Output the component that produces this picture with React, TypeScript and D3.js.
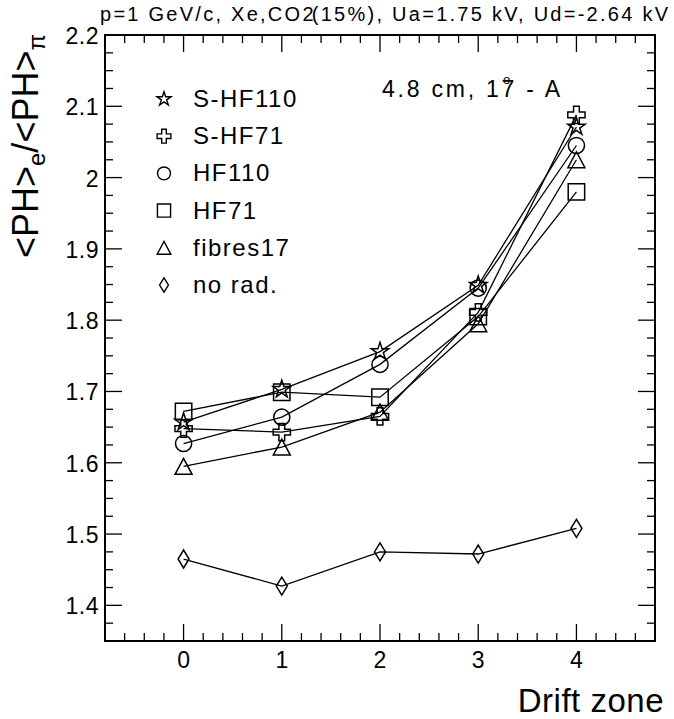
import React from "react";
import * as d3 from "d3";

const zones = [0, 1, 2, 3, 4];
const sHF110 = [1.657, 1.703, 1.756, 1.849, 2.071];
const sHF71 = [1.648, 1.643, 1.665, 1.811, 2.088];
const hf110 = [1.627, 1.664, 1.738, 1.845, 2.045];
const hf71 = [1.672, 1.699, 1.692, 1.805, 1.98];
const fibres17 = [1.595, 1.622, 1.671, 1.795, 2.025];
const noRad = [1.465, 1.427, 1.475, 1.472, 1.508];

const seriesNames = ["S-HF110", "S-HF71", "HF110", "HF71", "fibres17", "no rad."];
const seriesMarkers = ["star", "cross", "circle", "square", "triangle", "diamond"];
const seriesValues = [sHF110, sHF71, hf110, hf71, fibres17, noRad];

const yTickValues = [1.4, 1.5, 1.6, 1.7, 1.8, 1.9, 2.0, 2.1, 2.2];
const yTickLabels = ["1.4", "1.5", "1.6", "1.7", "1.8", "1.9", "2", "2.1", "2.2"];
const xTickValues = [0, 1, 2, 3, 4];
const xTickLabels = ["0", "1", "2", "3", "4"];

const FONT = "'Liberation Sans', Arial, sans-serif";

function markerPath(kind: string, s: number): string {
  switch (kind) {
    case "star":
      return d3.symbol(d3.symbolStar, 95 * s * s)()!;
    case "cross":
      return d3.symbol(d3.symbolCross, 165 * s * s)()!;
    case "circle":
      return d3.symbol(d3.symbolCircle, 205 * s * s)()!;
    case "square":
      return d3.symbol(d3.symbolSquare, 270 * s * s)()!;
    case "triangle": {
      const w = 17 * s, h = 16 * s;
      return `M0,${-h / 2}L${w / 2},${h / 2}L${-w / 2},${h / 2}Z`;
    }
    case "diamond": {
      const w = 5.5 * s, h = 9 * s;
      return `M0,${-h}L${w},0L0,${h}L${-w},0Z`;
    }
  }
  return "";
}

export default function App() {
  const W = 674, H = 719;
  const x = d3.scaleLinear().domain([-0.8, 4.8]).range([105, 655]);
  const y = d3.scaleLinear().domain([1.35, 2.2]).range([641, 35]);
  const [x0, x1] = x.range();
  const [y0, y1] = y.range();

  const xMinor = d3.range(-0.8, 4.8001, 0.2).map((v) => +v.toFixed(2));
  const yMinor = d3.range(1.35, 2.2001, 0.025).map((v) => +v.toFixed(3));
  const isMajorX = (v: number) => Math.abs(v - Math.round(v)) < 1e-6;
  const isMajorY = (v: number) => Math.abs(v * 10 - Math.round(v * 10)) < 1e-6;

  const line = d3
    .line<number>()
    .x((_, i) => x(zones[i]))
    .y((d) => y(d));

  const legendX = 164;
  const legendTextX = 193;
  const legendY0 = 107;
  const legendDy = 37.2;

  return (
    <svg
      width={W}
      height={H}
      style={{ position: "absolute", left: 0, top: 0, background: "#fff" }}
    >
      <rect x={0} y={0} width={W} height={H} fill="#fff" />
      {/* title */}
      <text x={100} y={21} fontFamily={FONT} fontSize={20} fill="#000" textLength={568} lengthAdjust="spacing">
        p=1 GeV/c, Xe,CO2<tspan dx={-4}>(15%), Ua=1.75 kV, Ud=-2.64 kV</tspan>
      </text>

      {/* ticks */}
      <g stroke="#000" strokeWidth={1.3}>
        {xMinor.map((v, i) => {
          const len = isMajorX(v) ? 17 : 8;
          return (
            <g key={"xt" + i}>
              <line x1={x(v)} x2={x(v)} y1={y0} y2={y0 - len} />
              <line x1={x(v)} x2={x(v)} y1={y1} y2={y1 + len} />
            </g>
          );
        })}
        {yMinor.map((v, i) => {
          const len = isMajorY(v) ? 17 : 8;
          return (
            <g key={"yt" + i}>
              <line x1={x0} x2={x0 + len} y1={y(v)} y2={y(v)} />
              <line x1={x1} x2={x1 - len} y1={y(v)} y2={y(v)} />
            </g>
          );
        })}
      </g>

      {/* frame */}
      <rect x={x0} y={y1} width={x1 - x0} height={y0 - y1} fill="none" stroke="#000" strokeWidth={2} />

      {/* tick labels */}
      {yTickValues.map((v, i) => (
        <text key={"yl" + i} x={99} y={y(v) + 9} textAnchor="end" fontFamily={FONT} fontSize={23} letterSpacing={0.5}>
          {yTickLabels[i]}
        </text>
      ))}
      {xTickValues.map((v, i) => (
        <text key={"xl" + i} x={x(v)} y={668} textAnchor="middle" fontFamily={FONT} fontSize={23}>
          {xTickLabels[i]}
        </text>
      ))}

      {/* axis titles */}
      <text x={664} y={712} textAnchor="end" fontFamily={FONT} fontSize={33} letterSpacing={0.5}>
        Drift zone
      </text>
      <text transform="translate(38,34) rotate(-90)" textAnchor="end" fontFamily={FONT} fontSize={36}>
        &lt;PH&gt;<tspan dy={7} fontSize={24}>e</tspan>
        <tspan dy={-7}>/&lt;PH&gt;</tspan>
        <tspan dy={7} fontSize={24}>π</tspan>
      </text>

      {/* annotation */}
      <text x={382} y={97} fontFamily={FONT} fontSize={23} textLength={178} lengthAdjust="spacing">
        4.8 cm, 17 - A
      </text>
      <text x={503} y={84} fontFamily={FONT} fontSize={13}>
        o
      </text>

      {/* series */}
      {seriesValues.map((vals, si) => (
        <g key={"s" + si}>
          <path d={line(vals)!} fill="none" stroke="#000" strokeWidth={1.3} />
          {vals.map((v, i) => (
            <path
              key={i}
              transform={`translate(${x(zones[i])},${y(v)})`}
              d={markerPath(seriesMarkers[si], 1)}
              fill="none"
              stroke="#000"
              strokeWidth={1.5}
            />
          ))}
        </g>
      ))}

      {/* legend */}
      {seriesNames.map((name, i) => (
        <g key={"lg" + i}>
          <path
            transform={`translate(${legendX},${legendY0 + i * legendDy - 8})`}
            d={markerPath(seriesMarkers[i], 0.8)}
            fill="none"
            stroke="#000"
            strokeWidth={1.4}
          />
          <text x={legendTextX} y={legendY0 + i * legendDy} fontFamily={FONT} fontSize={24} letterSpacing={1.5}>
            {name}
          </text>
        </g>
      ))}
    </svg>
  );
}
